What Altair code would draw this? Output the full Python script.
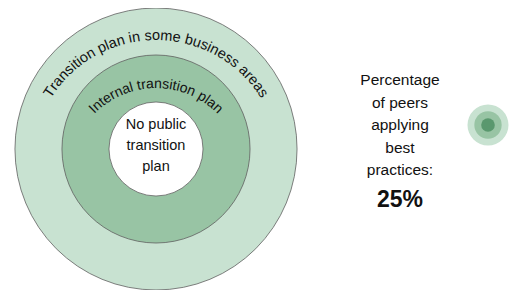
import math
import altair as alt
import pandas as pd

# ---- data ----
ring_labels = ["Transition plan in some business areas", "Internal transition plan", "No public transition plan"]
ring_levels = [3, 2, 1]
ring_colors = ["#c8e2d1", "#98c4a4", "#ffffff"]
icon_colors = ["#c8e2d1", "#98c4a4", "#5a986e"]
center_lines = ["No public", "transition", "plan"]
side_lines = ["Percentage", "of peers", "applying", "best", "practices:"]
peer_share = "25%"

FONT = "Liberation Sans"

# Arial / Liberation Sans advance widths (per 1000 em)
ADV = {" ": 278, "a": 556, "b": 556, "c": 500, "e": 556, "g": 556, "i": 222, "l": 222,
       "m": 833, "n": 556, "o": 556, "p": 556, "r": 333, "s": 500, "t": 278, "u": 556,
       "I": 278, "T": 611}


def arc_chars(label, cx, cy, radius, size):
    widths = [ADV.get(c, 556) * size / 1000 for c in label]
    total = sum(widths)
    rows, cum = [], 0.0
    for c, w in zip(label, widths):
        mid = cum + w / 2 - total / 2
        th = mid / radius
        rows.append({"ch": c, "th": th, "cx": cx, "cy": cy, "r": radius,
                     "ang": (math.degrees(th) + 360) % 360})
        cum += w
    return pd.DataFrame(rows)


rings = pd.DataFrame({"label": ring_labels, "level": ring_levels, "color": ring_colors})
icon = pd.DataFrame({"level": ring_levels, "color": icon_colors})

CX, CY = 148, 141

circles = alt.Chart(rings).mark_arc(theta=0, theta2=2 * math.pi, stroke="#5f5f5f", strokeWidth=0.8).encode(
    x=alt.value(CX), y=alt.value(CY),
    radius=alt.Radius("level:Q", stack=None,
                      scale=alt.Scale(type="linear", domain=[0, 3], range=[0, 141])),
    color=alt.Color("color:N", scale=None),
    order=alt.Order("level:Q", sort="descending"),
)

icon_layer = alt.Chart(icon).mark_arc(theta=0, theta2=2 * math.pi).encode(
    x=alt.value(480), y=alt.value(117),
    radius=alt.Radius("level:Q", stack=None,
                      scale=alt.Scale(type="linear", domain=[0, 3], range=[0, 20.5])),
    color=alt.Color("color:N", scale=None),
    order=alt.Order("level:Q", sort="descending"),
)


def arc_text(label, cx, cy, radius, size):
    df = arc_chars(label, cx, cy, radius, size)
    return alt.Chart(df).transform_calculate(
        px="datum.cx + datum.r * sin(datum.th)",
        py="datum.cy - datum.r * cos(datum.th)",
    ).mark_text(font=FONT, fontSize=size, color="#111111",
                align="center", baseline="alphabetic").encode(
        x=alt.X("px:Q", scale=None),
        y=alt.Y("py:Q", scale=None),
        angle=alt.Angle("ang:Q", scale=None),
        text="ch:N",
    )


outer_text = arc_text(ring_labels[0], 148, 156, 124, 14.5)
inner_text = arc_text(ring_labels[1], 148, 166, 86, 14)

center_df = pd.DataFrame({"t": ["\n".join(center_lines)]})
center_text = alt.Chart(center_df).mark_text(font=FONT, fontSize=14.5, lineBreak="\n", lineHeight=21,
                                             color="#111111", align="center", baseline="middle").encode(
    x=alt.value(CX), y=alt.value(117), text="t:N")

side_df = pd.DataFrame({"t": ["\n".join(side_lines)]})
side_text = alt.Chart(side_df).mark_text(font=FONT, fontSize=15.5, lineBreak="\n", lineHeight=22.5,
                                         color="#111111", align="center", baseline="middle").encode(
    x=alt.value(392), y=alt.value(72), text="t:N")

share_df = pd.DataFrame({"t": [peer_share]})
share_text = alt.Chart(share_df).mark_text(font=FONT, fontSize=23, fontWeight="bold",
                                           color="#111111", align="center", baseline="middle").encode(
    x=alt.value(392), y=alt.value(192), text="t:N")

chart = alt.layer(circles, icon_layer, outer_text, inner_text, center_text, side_text, share_text).resolve_scale(
    radius="independent"
).properties(
    width=511, height=282, padding=0,
    autosize=alt.AutoSizeParams(type="none"),
).configure_view(stroke=None)

chart.save("out.html", embed_options={"renderer": "svg", "actions": False})
